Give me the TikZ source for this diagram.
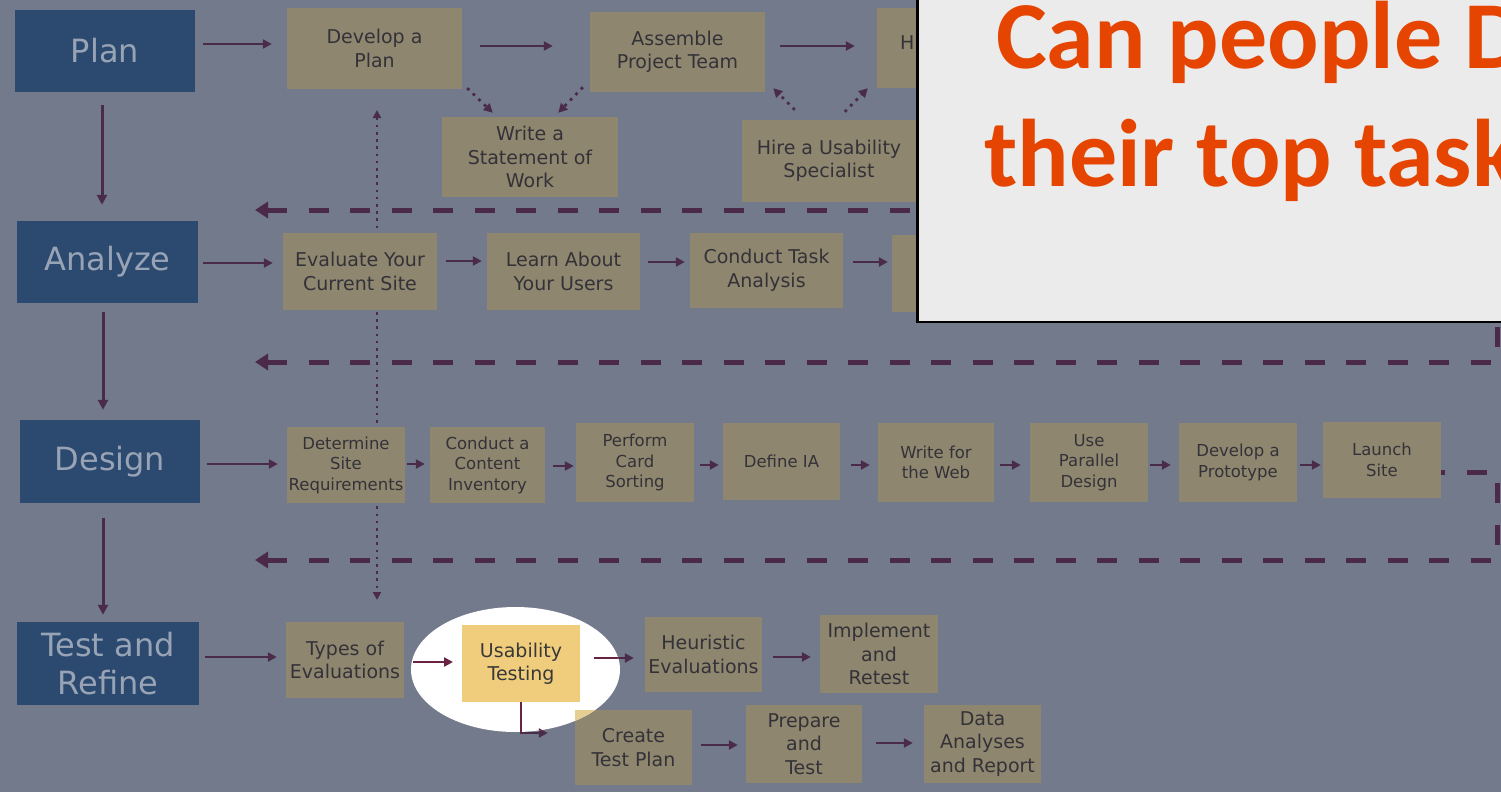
\documentclass[tikz,border=0pt]{standalone}
\usepackage{fontspec}
\setmainfont{DejaVu Sans}
\newfontfamily\titlefont{Carlito}
\usetikzlibrary{arrows.meta,shapes.geometric}

\definecolor{bg}{HTML}{727A8B}
\definecolor{bluefill}{HTML}{2C4A6F}
\definecolor{bluetext}{HTML}{98A4B6}
\definecolor{tanfill}{HTML}{8F866F}
\definecolor{tantext}{HTML}{333238}
\definecolor{arrowc}{HTML}{4A2C48}
\definecolor{dashc}{HTML}{4B2A49}
\definecolor{goldfill}{HTML}{F0CD7C}
\definecolor{brighttan}{HTML}{E6CF93}
\definecolor{maroon}{HTML}{6B2344}
\definecolor{callbg}{HTML}{EBEBEB}
\definecolor{titleorange}{HTML}{E54500}

\tikzset{
 bluebox/.style={fill=bluefill, text=bluetext, font=\fontsize{32}{38}\selectfont, align=center, inner sep=0pt},
 tanbox/.style={fill=tanfill, text=tantext, font=\fontsize{19}{23.5}\selectfont, align=center, inner sep=0pt},
 tansmall/.style={tanbox, font=\fontsize{16.5}{20.5}\selectfont},
 arr/.style={draw=arrowc, line width=2.4pt, -{Triangle[length=9pt,width=9pt]}},
 bigarr/.style={draw=arrowc, line width=3pt, -{Triangle[length=10pt,width=10pt]}},
 dotarr/.style={draw=arrowc, line width=2.8pt, dash pattern=on 2.8pt off 5pt, -{Triangle[length=9pt,width=9pt]}},
 vdots/.style={draw=arrowc, line width=2.6pt, dash pattern=on 2.6pt off 4.6pt, {Triangle[length=8pt,width=8pt]}-{Triangle[length=8pt,width=8pt]}},
 feedback/.style={draw=dashc, line width=5pt, dash pattern=on 20pt off 21.5pt, {Triangle[length=13pt,width=16pt]}-},
}

\begin{document}
\begin{tikzpicture}[x=1pt,y=-1pt]
\useasboundingbox (0,0) rectangle (1501,792);
\clip (0,0) rectangle (1501,792);
\fill[bg] (0,0) rectangle (1501,792);

% coordinates for free ends
\coordinate (fb1l) at (255,210);
\coordinate (fb1r) at (1000,210);
\coordinate (fb2l) at (255,362);
\coordinate (fb2c) at (1497,362);
\coordinate (fb2t) at (1497,200);
\coordinate (fb3l) at (255,560);
\coordinate (fb3c) at (1497,560);
\coordinate (fb3m) at (1497,472);
\coordinate (dtop) at (377,110);
\coordinate (dbot) at (377,600);

% dotted vertical link (behind boxes)
\draw[vdots] (dtop) -- (dbot);

% phase boxes
\node[bluebox, minimum width=180, minimum height=82] (plan) at (105,51) {Plan};
\node[bluebox, minimum width=181, minimum height=82] (analyze) at (107.5,262) {Analyze};
\node[bluebox, minimum width=180, minimum height=83] (design) at (110,461.5) {Design};
\node[bluebox, minimum width=182, minimum height=83] (test) at (108,663.5) {Test and\\Refine};

% row 1
\node[tanbox, minimum width=175, minimum height=81] (devplan) at (374.5,48.5) {Develop a\\Plan};
\node[tanbox, minimum width=175, minimum height=80] (assemble) at (677.5,52) {Assemble\\Project Team};
\node[tanbox, minimum width=110, minimum height=80] (hbox) at (932,48) {};
\node[anchor=west, inner sep=0pt, text=tantext, font=\fontsize{19}{23.5}\selectfont] (hlabel) at (900,43) {H};
\node[tanbox, minimum width=176, minimum height=80] (sow) at (530,157) {Write a\\Statement of\\Work};
\node[tanbox, minimum width=174, minimum height=82] (hire) at (829,161) {Hire a Usability\\Specialist};

% row 2
\node[tanbox, minimum width=154, minimum height=77] (evalsite) at (360,271.5) {Evaluate Your\\Current Site};
\node[tanbox, minimum width=153, minimum height=77] (learn) at (563.5,271.5) {Learn About\\Your Users};
\node[tanbox, minimum width=153, minimum height=75] (ctask) at (766.5,270.5) {Conduct Task\\Analysis};
\node[tanbox, minimum width=98, minimum height=77] (abox) at (941,273.5) {};

% row 3
\node[tansmall, minimum width=118, minimum height=76] (detreq) at (346,465) {Determine\\Site\\Requirements};
\node[tansmall, minimum width=115, minimum height=76] (cinv) at (487.5,465) {Conduct a\\Content\\Inventory};
\node[tansmall, minimum width=118, minimum height=79] (cards) at (635,462.5) {Perform\\Card\\Sorting};
\node[tansmall, minimum width=117, minimum height=77] (defia) at (781.5,461.5) {Define IA};
\node[tansmall, minimum width=116, minimum height=79] (webw) at (936,462.5) {Write for\\the Web};
\node[tansmall, minimum width=118, minimum height=79] (parallel) at (1089,462.5) {Use\\Parallel\\Design};
\node[tansmall, minimum width=118, minimum height=79] (proto) at (1238,462.5) {Develop a\\Prototype};
\node[tansmall, minimum width=118, minimum height=76] (launch) at (1382,460) {Launch\\Site};

% row 4
\node[tanbox, minimum width=118, minimum height=76] (types) at (345,660) {Types of\\Evaluations};
\node[tanbox, minimum width=117, minimum height=75] (heur) at (703.5,654.5) {Heuristic\\Evaluations};
\node[tanbox, minimum width=118, minimum height=78] (impl) at (879,654) {Implement\\and\\Retest};
\node[tanbox, minimum width=117, minimum height=75] (ctp) at (633.5,747.5) {Create\\Test Plan};
\node[tanbox, minimum width=116, minimum height=78] (prep) at (804,744) {Prepare\\and\\Test};
\node[tanbox, minimum width=117, minimum height=78] (data) at (982.5,744) {Data\\Analyses\\and Report};

% feedback dashed lines
\draw[feedback] (fb1l) -- (fb1r);
\draw[feedback] (fb2l) -- (fb2c) -- (fb2t);
\draw[feedback] (fb3l) -- (fb3c) -- (fb3m) -- (launch.east |- 0,472);

% phase arrows
\draw[bigarr, shorten <=13pt, shorten >=16pt] (plan.south -| 102,0) -- (analyze.north -| 102,0);
\draw[bigarr, shorten <=9pt, shorten >=10pt] (analyze.south -| 103,0) -- (design.north -| 103,0);
\draw[bigarr, shorten <=15pt, shorten >=7pt] (design.south -| 103,0) -- (test.north -| 103,0);

% row 1 arrows
\draw[arr, shorten <=8pt, shorten >=15pt] (plan.east |- 0,44) -- (devplan.west |- 0,44);
\draw[arr, shorten <=18pt, shorten >=37pt] (devplan.east |- 0,46) -- (assemble.west |- 0,46);
\draw[arr, shorten <=15pt, shorten >=22pt] (assemble.east |- 0,46) -- (hbox.west |- 0,46);
\draw[dotarr] ([shift={(5,-1)}]devplan.south east) -- ([shift={(51,-4)}]sow.north west);
\draw[dotarr] ([shift={(-7,-5)}]assemble.south west) -- ([shift={(-60,-4)}]sow.north east);
\draw[dotarr] ([shift={(53,-10)}]hire.north west) -- ([shift={(8,-4)}]assemble.south east);
\draw[dotarr] ([shift={(103,-8)}]hire.north west) -- ([shift={(-9,0)}]hbox.south west);

% row 2 arrows
\draw[arr, shorten <=5pt, shorten >=10pt] (analyze.east |- 0,263) -- (evalsite.west |- 0,263);
\draw[arr, shorten <=9pt, shorten >=5pt] (evalsite.east |- 0,261) -- (learn.west |- 0,261);
\draw[arr, shorten <=8pt, shorten >=5pt] (learn.east |- 0,262) -- (ctask.west |- 0,262);
\draw[arr, shorten <=10pt, shorten >=4pt] (ctask.east |- 0,262) -- (abox.west |- 0,262);

% row 3 arrows
\draw[arr, shorten <=7pt, shorten >=9pt] (design.east |- 0,464) -- (detreq.west |- 0,464);
\draw[arr, shorten <=2pt, shorten >=5pt] (detreq.east |- 0,464) -- (cinv.west |- 0,464);
\draw[arr, shorten <=8pt, shorten >=2pt] (cinv.east |- 0,466) -- (cards.west |- 0,466);
\draw[arr, shorten <=6pt, shorten >=4pt] (cards.east |- 0,465) -- (defia.west |- 0,465);
\draw[arr, shorten <=11pt, shorten >=8pt] (defia.east |- 0,465) -- (webw.west |- 0,465);
\draw[arr, shorten <=6pt, shorten >=9pt] (webw.east |- 0,465) -- (parallel.west |- 0,465);
\draw[arr, shorten <=2pt, shorten >=8pt] (parallel.east |- 0,465) -- (proto.west |- 0,465);
\draw[arr, shorten <=3pt, shorten >=2pt] (proto.east |- 0,465) -- (launch.west |- 0,465);

% row 4 arrows
\coordinate (usabW) at (462,663.5);
\coordinate (usabE) at (580,663.5);
\coordinate (usabS) at (521,702);
\draw[arr, shorten <=6pt, shorten >=9pt] (test.east |- 0,657) -- (types.west |- 0,657);
\draw[arr, shorten <=11pt, shorten >=9pt] (heur.east |- 0,657) -- (impl.west |- 0,657);
\draw[arr, shorten <=9pt, shorten >=8pt] (ctp.east |- 0,745) -- (prep.west |- 0,745);
\draw[arr, shorten <=14pt, shorten >=11pt] (prep.east |- 0,743) -- (data.west |- 0,743);
\draw[arr, shorten <=14pt, shorten >=11pt] (usabE |- 0,658) -- (heur.west |- 0,658);
\draw[arr, shorten >=27pt] (usabS) -- (usabS |- 0,733) -- (ctp.west |- 0,733);

% spotlight
\node[ellipse, fill=white, minimum width=209, minimum height=125, inner sep=0pt] (spot) at (515.5,669.5) {};
\begin{scope}
 \clip (515.5,669.5) ellipse [x radius=104.5pt, y radius=62.5pt];
 \fill[brighttan] (ctp.north west) rectangle (ctp.south east);
 \draw[arr, draw=maroon, shorten <=9pt, shorten >=9pt] (types.east |- 0,662) -- (usabW |- 0,662);
 \draw[arr, draw=maroon, shorten <=14pt, shorten >=11pt] (usabE |- 0,658) -- (heur.west |- 0,658);
 \draw[arr, draw=maroon, shorten >=27pt] (usabS) -- (usabS |- 0,733) -- (ctp.west |- 0,733);
\end{scope}
\node[tanbox, fill=goldfill, text=black!78, minimum width=118, minimum height=77] (usab) at (521,663.5) {Usability\\Testing};

% callout
\node[draw=black, line width=2.5pt, fill=callbg, minimum width=620, minimum height=345, anchor=south west, inner sep=0pt] (callout) at (916,323) {};
\node[anchor=base west, inner sep=0pt, text=titleorange, font=\titlefont\bfseries\fontsize{96}{117}\selectfont] (title1) at (996,69) {Can people D};
\node[anchor=base west, inner sep=0pt, text=titleorange, font=\titlefont\bfseries\fontsize{96}{117}\selectfont] (title2) at (984,186) {their top task};
\end{tikzpicture}
\end{document}
